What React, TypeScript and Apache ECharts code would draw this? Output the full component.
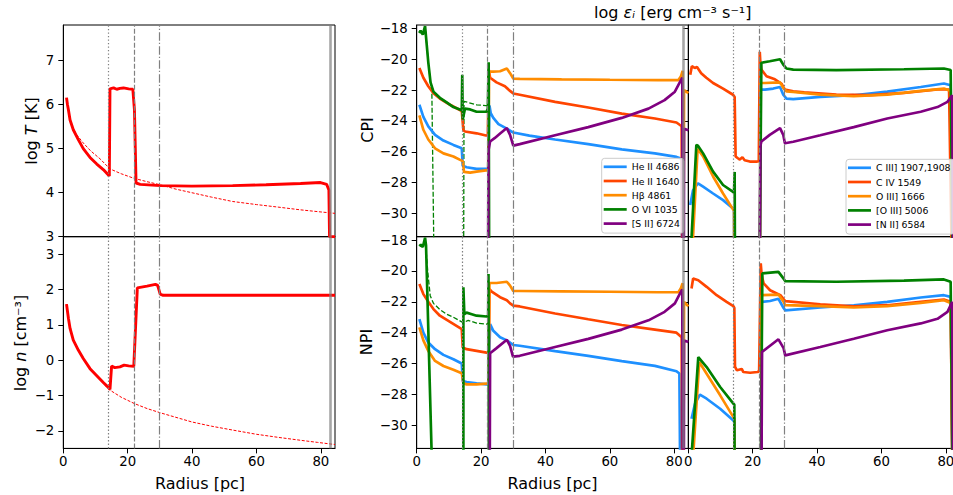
import React, { useEffect, useRef } from 'react';
import * as echarts from 'echarts';

// ---------- tick values ----------
const xTicks = [0, 20, 40, 60, 80];
const tTicks = [3, 4, 5, 6, 7];
const nTicks = [-2, -1, 0, 1, 2, 3];
const eTicks = [-30, -28, -26, -24, -22, -20, -18];

// ---------- reference radii (vertical lines) ----------
const rDotted = 14;
const rDashed = 22;
const rDashDot = 29.9;
const rShell = 82.9;

// ---------- legend names ----------
const midNames = ['He II 4686', 'He II 1640', 'Hβ 4861', 'O VI 1035', '[S II] 6724'];
const rightNames = ['C III] 1907,1908', 'C IV 1549', 'O III] 1666', '[O III] 5006', '[N II] 6584'];

// ---------- left column: temperature & density ----------
const logT = [[1.0,6.16],[1.3,6.0],[1.6,5.88],[2.1,5.65],[3.1,5.43],[4.7,5.2],[6.2,5.0],[8.3,4.8],[10.4,4.65],[12.5,4.52],[14.0,4.4],[14.3,4.38],[14.5,6.36],[15.6,6.38],[16.6,6.35],[17.6,6.37],[18.7,6.38],[20.3,6.36],[21.6,6.35],[22.1,5.88],[22.6,4.22],[23.9,4.19],[30.1,4.16],[39.9,4.15],[52.6,4.16],[63,4.18],[73.7,4.21],[79.9,4.23],[81.8,4.19],[82.5,4.06],[82.7,3.0],[84.4,3.0]];
const logTfree = [[1.0,6.12],[1.5,5.88],[2.0,5.7],[3.0,5.47],[4.0,5.33],[6.2,5.13],[8.5,4.95],[11.4,4.77],[14.5,4.54],[18,4.43],[21.8,4.33],[26,4.25],[30.1,4.18],[35,4.08],[39.9,4.0],[46,3.9],[52.6,3.8],[60,3.73],[67,3.67],[73.7,3.61],[79,3.57],[84.4,3.53]];
const logN = [[1.0,1.59],[1.6,1.18],[2.1,0.9],[3.1,0.57],[4.7,0.28],[6.2,0.05],[8.3,-0.24],[10.4,-0.44],[12.5,-0.64],[14.0,-0.77],[14.5,-0.83],[15.0,-0.17],[16.0,-0.21],[17.6,-0.19],[18.9,-0.14],[20.3,-0.16],[21.9,-0.17],[23.0,2.05],[26.0,2.1],[28.6,2.15],[29.3,2.12],[30.1,1.87],[31,1.84],[84.4,1.84]];
const logNfree = [[1.0,1.59],[1.6,1.18],[2.1,0.9],[3.1,0.57],[4.7,0.28],[6.2,0.05],[8.3,-0.24],[10.4,-0.46],[12.5,-0.66],[14.0,-0.82],[18,-1.05],[22.1,-1.23],[26,-1.37],[30.1,-1.49],[35,-1.62],[39.9,-1.75],[46,-1.87],[52.6,-1.98],[60,-2.1],[67,-2.19],[73.7,-2.27],[79,-2.33],[84.4,-2.39]];

// ---------- middle column: CPI ----------
const cpiHeII4686 = [[0.83,-22.95],[2.07,-23.73],[3.6,-24.35],[5.7,-24.9],[8.3,-25.27],[11.4,-25.55],[14.0,-25.77],[14.3,-26.9],[15.5,-27.0],[18.6,-27.1],[21.5,-27.1],[22.2,-27.1],[22.6,-23.0],[23.0,-23.5],[23.8,-23.8],[25.4,-24.2],[28.0,-24.5],[30.0,-24.75],[35,-24.95],[43,-25.2],[53.3,-25.5],[63.7,-25.84],[74,-26.1],[80.7,-26.33],[82.3,-26.45],[82.6,-40]];
const cpiHeII1640 = [[0.83,-20.56],[2.07,-21.2],[3.6,-21.75],[5.2,-22.2],[7.2,-22.55],[10.35,-22.95],[14.0,-23.35],[14.5,-24.6],[15.0,-24.68],[18.6,-24.8],[21.5,-24.94],[22.1,-24.94],[22.4,-20.7],[22.8,-21.2],[24.8,-21.5],[27.4,-21.75],[29.0,-22.05],[30.0,-22.22],[32,-22.3],[43,-22.76],[53.3,-23.13],[63.7,-23.52],[74,-23.84],[80.7,-24.1],[82.3,-24.34],[82.6,-40]];
const cpiHbeta = [[0.83,-23.64],[2.07,-24.57],[3.6,-25.2],[5.7,-25.77],[8.3,-26.1],[11.4,-26.3],[13.5,-26.52],[14.3,-26.6],[14.7,-27.3],[16.6,-27.35],[18.6,-27.28],[21.5,-27.2],[22.2,-27.2],[22.5,-20.8],[23.8,-20.8],[25.9,-20.78],[28.0,-20.6],[29.0,-20.9],[30.0,-21.25],[32,-21.27],[45,-21.3],[60,-21.33],[75,-21.35],[81.3,-21.35],[82.1,-21.1],[82.6,-20.75],[82.75,-40],[82.95,-40],[83.05,-22.0],[84.4,-22.2]];
const cpiOVI = [[0.8,-18.3],[1.2,-18.15],[1.5,-18.25],[1.9,-18.4],[2.6,-17.85],[3.6,-20.2],[4.3,-21.5],[5.2,-22.1],[7.2,-22.5],[9.3,-22.8],[11.4,-23.1],[14.0,-23.3],[14.15,-21.0],[14.3,-23.9],[15.0,-23.2],[16.6,-23.25],[18.6,-23.4],[21.7,-23.4],[22.1,-23.2],[22.35,-20.2],[22.6,-40]];
const cpiOVIalt = [[0.8,-18.3],[1.2,-18.15],[1.5,-18.25],[1.9,-18.4],[2.6,-17.85],[3.6,-20.2],[4.3,-21.5],[4.7,-22.0],[5.8,-40],[14.5,-40],[14.7,-22.73],[16,-22.8],[18.6,-22.95],[21.5,-23.0],[22.0,-23.0]];
const cpiSII = [[22.05,-40],[22.3,-25.9],[22.8,-25.33],[24.3,-25.1],[26,-24.8],[28.0,-24.46],[29.0,-24.9],[30.0,-25.6],[32,-25.5],[43,-24.93],[53.3,-24.4],[63.7,-23.8],[72,-23.2],[77,-22.65],[80.2,-22.1],[81.8,-21.46],[82.5,-21.2],[82.7,-40],[82.95,-40],[83.05,-24.5],[84.4,-24.6]];

// ---------- middle column: NPI ----------
const npiHeII4686 = [[0.83,-23.12],[2.07,-24.0],[3.6,-24.64],[5.7,-25.07],[8.3,-25.44],[11.4,-25.72],[14.0,-26.0],[14.3,-27.13],[15.5,-27.2],[18.6,-27.28],[21.7,-27.35],[22.3,-27.35],[22.8,-23.45],[23.8,-23.88],[25.9,-24.3],[28.0,-24.5],[30.0,-24.8],[32,-24.85],[43,-25.2],[53.3,-25.5],[63.7,-25.84],[74,-26.15],[80.7,-26.5],[81.6,-26.65],[82.1,-40]];
const npiHeII1640 = [[0.83,-20.84],[2.07,-21.5],[3.6,-22.0],[5.2,-22.47],[7.2,-22.9],[10.35,-23.3],[14.0,-23.77],[14.3,-24.96],[15.5,-25.07],[18.6,-25.18],[21.7,-25.29],[22.4,-25.3],[22.6,-21.17],[23.3,-21.34],[25.9,-21.7],[28.0,-21.9],[29.0,-22.1],[30.0,-22.25],[32,-22.3],[43,-22.76],[53.3,-23.13],[63.7,-23.5],[74,-23.8],[80.7,-24.0],[82.3,-24.3],[82.6,-40]];
const npiHbeta = [[0.83,-23.66],[2.07,-24.5],[3.6,-25.18],[5.7,-25.83],[8.3,-26.16],[11.4,-26.4],[14.0,-26.63],[14.5,-27.28],[15.5,-27.35],[18.6,-27.35],[21.7,-27.3],[22.3,-27.3],[22.6,-20.78],[24.8,-20.78],[28.0,-20.7],[29.0,-20.95],[30.0,-21.3],[32,-21.3],[45,-21.32],[60,-21.35],[75,-21.38],[81.3,-21.38],[82.1,-21.1],[82.6,-20.8],[82.75,-40],[82.95,-40],[83.05,-22.0],[84.4,-22.3]];
const npiOVI = [[0.83,-18.4],[1.3,-18.3],[1.9,-18.45],[2.6,-17.85],[2.9,-18.35],[5.7,-40],[14.5,-40],[14.5,-21.06],[14.8,-22.8],[15.5,-22.7],[17.1,-22.8],[18.6,-22.9],[21.7,-22.95],[22.2,-22.9],[22.3,-20.2],[22.5,-40]];
const npiOVIalt = [[2.6,-17.85],[3.5,-20.2],[4.2,-21.6],[5.2,-22.1],[7.2,-22.5],[9.3,-22.8],[11.4,-23.0],[14.0,-23.3],[14.5,-23.35],[16.0,-23.2],[18.6,-23.38],[21.7,-23.45],[22.2,-23.4]];
const npiSII = [[22.6,-40],[22.8,-25.33],[24.8,-25.0],[28.0,-24.46],[29.0,-24.85],[29.9,-25.55],[32,-25.5],[43,-24.93],[53.3,-24.4],[63.7,-23.8],[72,-23.2],[77,-22.65],[80.2,-22.1],[81.8,-21.46],[82.5,-21.2],[82.7,-40],[82.95,-40],[83.05,-24.5],[84.4,-24.6]];

// ---------- right column: CPI ----------
const cpiCIII = [[0.6,-29.45],[1.45,-28.5],[3.0,-28.04],[4.6,-28.26],[7.7,-28.7],[10.8,-29.13],[13.9,-29.67],[14.2,-29.8],[14.4,-40],[22.2,-40],[22.4,-21.97],[23.8,-21.97],[26.4,-21.9],[28.5,-21.8],[29.5,-22.3],[30.5,-22.55],[32.6,-22.58],[41,-22.44],[51.4,-22.33],[61.8,-22.1],[72.2,-21.8],[79.4,-21.57],[81.5,-21.68],[82.4,-40]];
const cpiCIV = [[0.6,-21.0],[1.1,-20.45],[2.0,-20.56],[2.7,-20.5],[4.0,-20.9],[5.6,-21.2],[7.7,-21.54],[10.8,-21.9],[13.9,-22.3],[14.4,-22.45],[14.7,-26.3],[15.3,-26.4],[16.0,-26.5],[16.8,-26.35],[17.5,-26.55],[19.1,-26.63],[21.4,-26.63],[21.9,-26.6],[22.2,-19.52],[22.4,-20.3],[22.7,-20.67],[24.3,-21.1],[26.9,-21.3],[29.0,-21.6],[30.0,-21.97],[32.6,-22.08],[36,-22.15],[46,-22.29],[56.6,-22.33],[67,-22.18],[77.4,-21.96],[81,-21.96],[82.4,-40]];
const cpiOIII1666 = [[1.35,-32],[2.9,-25.8],[4.6,-26.3],[7.7,-27.6],[10.8,-28.7],[13.9,-29.73],[14.2,-29.8],[14.4,-40],[22.2,-40],[22.4,-21.54],[23.8,-21.54],[28.5,-21.5],[29.5,-21.86],[30.5,-22.08],[32.6,-22.12],[41,-22.29],[51.4,-22.4],[61.8,-22.29],[72.2,-22.05],[79.4,-21.9],[81.5,-22.05],[82.4,-40]];
const cpiOIII5006 = [[0.9,-32],[2.5,-25.55],[3.0,-25.6],[4.6,-26.1],[7.7,-27.28],[10.8,-28.15],[13.9,-28.6],[14.2,-28.65],[14.4,-27.3],[14.6,-40],[21.9,-40],[22.7,-20.23],[25.3,-20.13],[28.5,-20.0],[29.5,-20.35],[30.5,-20.6],[32.6,-20.67],[46,-20.7],[67,-20.65],[79.4,-20.6],[81.5,-20.7],[82.4,-40]];
const cpiNII = [[22.0,-40],[22.4,-25.6],[22.7,-25.33],[25.3,-24.9],[28.5,-24.46],[29.5,-24.9],[30.0,-25.44],[32.6,-25.35],[41,-24.93],[51.4,-24.4],[61.8,-23.84],[72.2,-23.4],[77.4,-23.1],[80.5,-22.76],[82.0,-22.33],[82.4,-40]];

// ---------- right column: NPI ----------
const npiCIII = [[1.0,-29.58],[2.1,-28.6],[3.6,-28.02],[5.7,-28.28],[9.9,-28.93],[14.0,-29.69],[14.3,-29.8],[14.5,-40],[22.5,-40],[22.8,-22.0],[25.4,-21.95],[28.0,-21.8],[29.6,-22.4],[30.1,-22.55],[41,-22.37],[51.4,-22.22],[61.8,-22.0],[72.2,-21.72],[79.4,-21.57],[81.5,-21.68],[82.4,-40]];
const npiCIV = [[1.0,-21.14],[1.5,-20.49],[3.1,-20.6],[5.7,-21.03],[8.8,-21.57],[11.9,-22.0],[14.0,-22.28],[14.3,-22.4],[14.5,-26.2],[15.1,-26.44],[16.6,-26.35],[17.1,-26.55],[19.2,-26.6],[21.5,-26.55],[22.0,-26.5],[22.5,-19.5],[22.8,-20.3],[23.4,-20.8],[25.4,-21.25],[28.6,-21.57],[30.1,-21.96],[41,-22.16],[51.4,-22.29],[61.8,-22.22],[72.2,-22.0],[79.4,-21.85],[81.5,-22.0],[82.4,-40]];
const npiOIII1666 = [[1.5,-32],[3.4,-25.9],[5.7,-26.66],[9.9,-28.06],[14.0,-29.47],[14.3,-29.55],[14.5,-40],[22.5,-40],[22.8,-21.57],[28.0,-21.53],[29.6,-22.0],[30.1,-22.22],[41,-22.28],[51.4,-22.37],[61.8,-22.28],[72.2,-22.07],[79.4,-21.9],[81.5,-22.07],[82.4,-40]];
const npiOIII5006 = [[1.0,-32],[3.1,-25.58],[5.7,-26.23],[9.9,-27.52],[14.0,-28.6],[14.3,-28.65],[14.5,-40],[22.3,-40],[23.0,-20.16],[28.0,-20.06],[29.6,-20.5],[30.1,-20.66],[46,-20.7],[67,-20.63],[79.4,-20.55],[81.5,-20.7],[82.4,-40]];
const npiNII = [[22.6,-40],[22.9,-25.25],[28.0,-24.43],[29.6,-25.0],[30.1,-25.47],[41,-24.93],[51.4,-24.39],[61.8,-23.84],[72.2,-23.4],[77.4,-23.1],[80.5,-22.65],[82.0,-22.0],[82.4,-40]];

// ---------- styles ----------
const C_BLUE = '#1E90FF';
const C_RED = '#FF4500';
const C_ORANGE = '#FF8C00';
const C_GREEN = '#008000';
const C_PURPLE = '#800080';
const LW = 2.67;
const FONT = 'DejaVu Sans';

const minus = (v: number) => (v < 0 ? '\u2212' + Math.abs(v) : String(v));

function mkLine(name: string, data: number[][], idx: number, color: string, width: number, type: any = 'solid', z = 2) {
  return {
    type: 'line', name, data, xAxisIndex: idx, yAxisIndex: idx,
    symbol: 'none', showSymbol: false, clip: true, silent: true, z,
    emphasis: { disabled: true },
    lineStyle: { color, width, type },
    itemStyle: { color },
  };
}

function vlineSeries(idx: number, withShell: boolean) {
  const data: any[] = [
    { xAxis: rDotted, lineStyle: { type: [1.3, 2.2], color: '#808080', width: 1.2 } },
    { xAxis: rDashed, lineStyle: { type: [4.9, 2.1], color: '#808080', width: 1.2 } },
    { xAxis: rDashDot, lineStyle: { type: [8.5, 2.1, 1.3, 2.1], color: '#808080', width: 1.2 } },
  ];
  if (withShell) data.push({ xAxis: rShell, lineStyle: { type: 'solid', color: 'rgba(128,128,128,0.7)', width: 2.6 } });
  return {
    type: 'line', name: '_vl' + idx, data: [], xAxisIndex: idx, yAxisIndex: idx, silent: true,
    markLine: { silent: true, symbol: ['none', 'none'], label: { show: false }, animation: false, data },
  };
}

const GL = [63.3, 416.7, 688.3];
const GW = 271.7;
const TOP1 = 25, H = 211.7, TOP2 = 236.7;
const CANVAS_W = 975;

function App() {
  const ref = useRef<HTMLDivElement>(null);
  useEffect(() => {
    if (!ref.current) return;
    const chart = echarts.init(ref.current, undefined, { renderer: 'svg' });

    const grids: any[] = [];
    const xAxes: any[] = [];
    const yAxes: any[] = [];
    // index order: 0 T, 1 n, 2 CPI mid, 3 NPI mid, 4 CPI right, 5 NPI right
    for (let c = 0; c < 3; c++) {
      for (let r = 0; r < 2; r++) {
        const idx = c * 2 + r;
        grids.push({ left: GL[c], top: r === 0 ? TOP1 : TOP2, width: GW, height: H, show: true, borderColor: '#000', borderWidth: 1, backgroundColor: 'transparent' });
        const bottom = r === 1;
        xAxes.push({
          type: 'value', gridIndex: idx, min: 0, max: 84.4,
          axisLine: { show: true, onZero: false, lineStyle: { color: '#000', width: 1 } },
          axisTick: { show: bottom, inside: false, length: 5, customValues: xTicks, lineStyle: { color: '#000', width: 1 } },
          axisLabel: { show: bottom, customValues: xTicks, margin: 7, fontSize: 13.3, color: '#000', fontFamily: FONT, formatter: minus },
          splitLine: { show: false },
        });
        let ymin: number, ymax: number, ticks: number[];
        if (c === 0 && r === 0) { ymin = 3; ymax = 7.81; ticks = tTicks; }
        else if (c === 0) { ymin = -2.5; ymax = 3.5; ticks = nTicks; }
        else { ymin = -31.5; ymax = -17.78; ticks = eTicks; }
        yAxes.push({
          type: 'value', gridIndex: idx, min: ymin, max: ymax,
          axisLine: { show: true, onZero: false, lineStyle: { color: '#000', width: 1 } },
          axisTick: { show: true, inside: false, length: 5, customValues: ticks, lineStyle: { color: '#000', width: 1 } },
          axisLabel: { show: c !== 2, customValues: ticks, margin: 9, fontSize: 13.3, color: '#000', fontFamily: FONT, formatter: minus },
          splitLine: { show: false },
        });
      }
    }

    const series: any[] = [
      vlineSeries(0, true), vlineSeries(1, true), vlineSeries(2, true), vlineSeries(3, true), vlineSeries(4, false), vlineSeries(5, false),
      mkLine('logTfree', logTfree, 0, '#FF0000', 1, [3, 1.6]),
      mkLine('logT', logT, 0, '#FF0000', 2.9),
      mkLine('logNfree', logNfree, 1, '#FF0000', 1, [3, 1.6]),
      mkLine('logN', logN, 1, '#FF0000', 2.9),

      mkLine('O VI alt', cpiOVIalt, 2, C_GREEN, 1.3, [4.9, 2.1]),
      mkLine(midNames[0], cpiHeII4686, 2, C_BLUE, LW),
      mkLine(midNames[1], cpiHeII1640, 2, C_RED, LW),
      mkLine(midNames[2], cpiHbeta, 2, C_ORANGE, LW),
      mkLine(midNames[3], cpiOVI, 2, C_GREEN, LW),
      mkLine(midNames[4], cpiSII, 2, C_PURPLE, LW),

      mkLine('O VI alt', npiOVIalt, 3, C_GREEN, 1.3, [4.9, 2.1]),
      mkLine(midNames[0], npiHeII4686, 3, C_BLUE, LW),
      mkLine(midNames[1], npiHeII1640, 3, C_RED, LW),
      mkLine(midNames[2], npiHbeta, 3, C_ORANGE, LW),
      mkLine(midNames[3], npiOVI, 3, C_GREEN, LW),
      mkLine(midNames[4], npiSII, 3, C_PURPLE, LW),

      mkLine(rightNames[0], cpiCIII, 4, C_BLUE, LW),
      mkLine(rightNames[1], cpiCIV, 4, C_RED, LW),
      mkLine(rightNames[2], cpiOIII1666, 4, C_ORANGE, LW),
      mkLine(rightNames[3], cpiOIII5006, 4, C_GREEN, LW),
      mkLine(rightNames[4], cpiNII, 4, C_PURPLE, LW),

      mkLine(rightNames[0], npiCIII, 5, C_BLUE, LW),
      mkLine(rightNames[1], npiCIV, 5, C_RED, LW),
      mkLine(rightNames[2], npiOIII1666, 5, C_ORANGE, LW),
      mkLine(rightNames[3], npiOIII5006, 5, C_GREEN, LW),
      mkLine(rightNames[4], npiNII, 5, C_PURPLE, LW),
    ];

    const legendBase = {
      orient: 'vertical', icon: 'rect', itemWidth: 23, itemHeight: 2.7, itemGap: 3.2,
      padding: [3, 4, 4, 2],
      backgroundColor: 'rgba(255,255,255,0.8)', borderColor: '#cccccc', borderWidth: 1, borderRadius: 3,
      textStyle: { fontSize: 9.3, color: '#000', fontFamily: FONT, lineHeight: 11 },
      selectedMode: false,
    };

    const axisText = (x: number, y: number, text: string, rich: any, rot = Math.PI / 2) => ({
      type: 'text', x, y, rotation: rot, silent: true,
      style: { text, align: 'center', verticalAlign: 'middle', fill: '#000', rich, fontFamily: FONT, fontSize: 16 },
    });
    const richN = { n: { fontSize: 16, fontFamily: FONT, fill: '#000' }, i: { fontSize: 16, fontFamily: FONT, fontStyle: 'italic', fill: '#000' } };

    chart.setOption({
      animation: false,
      backgroundColor: '#ffffff',
      grid: grids,
      xAxis: xAxes,
      yAxis: yAxes,
      series,
      legend: [
        { ...legendBase, data: midNames, left: 601.7, top: 158.3 },
        { ...legendBase, data: rightNames, left: 846, top: 159.3 },
      ],
      graphic: [
        axisText(31, 131, '{n|log }{i|T}{n| [K]}', richN),
        axisText(20, 343, '{n|log }{i|n}{n| [cm⁻³]}', richN),
        axisText(367, 130, 'CPI', richN),
        axisText(366, 342, 'NPI', richN),
        axisText(200, 483, 'Radius [pc]', richN, 0),
        axisText(552.5, 483, 'Radius [pc]', richN, 0),
        axisText(672.8, 12, '{n|log }{i|εᵢ}{n| [erg cm⁻³ s⁻¹]}', richN, 0),
      ],
    });
    return () => chart.dispose();
  }, []);
  return (
    <div style={{ position: 'fixed', left: 0, top: 0, width: 953, height: 495, overflow: 'hidden', background: '#fff' }}>
      <div ref={ref} style={{ width: CANVAS_W, height: 495 }} />
    </div>
  );
}

export default App;
